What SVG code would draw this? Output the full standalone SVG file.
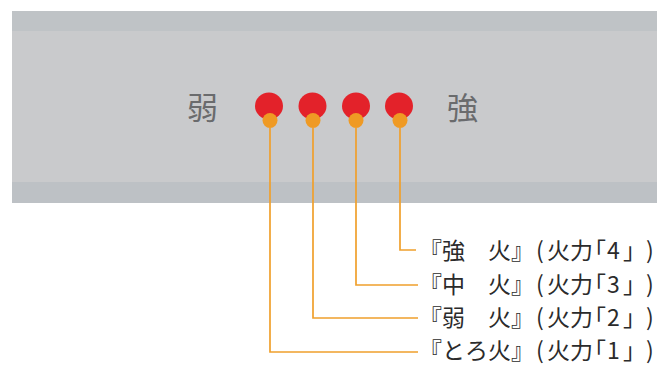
<svg xmlns="http://www.w3.org/2000/svg" width="657" height="365" viewBox="0 0 657 365">
<style>
.lamp{fill:#e3222a}
.dot{fill:#ef9a24}
.lead{fill:none;stroke:#f0a02c;stroke-width:1.7}
.big{font-family:"Noto Sans CJK JP","Noto Sans CJK SC",sans-serif;font-size:31px;fill:#6a6b6d}
.lbl{font-family:"Noto Sans CJK JP","Noto Sans CJK SC",sans-serif;font-size:23px;fill:#2b2b2b}
</style>
<rect x="0" y="0" width="657" height="365" fill="#ffffff"/>
<g id="panel">
<rect x="12" y="11" width="645" height="192" fill="#c9cacc"/>
<rect x="12" y="11" width="645" height="20" fill="#bfc3c6"/>
<rect x="12" y="182" width="645" height="21" fill="#bdc1c5"/>
<text class="big" x="187" y="119">弱</text>
<text class="big" x="447" y="119">強</text>
</g>
<g id="lamps">
<g id="lamp1"><ellipse class="lamp" cx="269" cy="106" rx="14" ry="13.5"/><circle class="dot" cx="270" cy="120.5" r="7.5"/></g>
<g id="lamp2"><ellipse class="lamp" cx="312.5" cy="106" rx="14" ry="13.5"/><circle class="dot" cx="313" cy="120.5" r="7.5"/></g>
<g id="lamp3"><ellipse class="lamp" cx="356" cy="106" rx="14" ry="13.5"/><circle class="dot" cx="356" cy="120.5" r="7.5"/></g>
<g id="lamp4"><ellipse class="lamp" cx="399" cy="106" rx="14" ry="13.5"/><circle class="dot" cx="400" cy="120.5" r="7.5"/></g>
</g>
<g id="connectors">
<polyline class="lead" points="400,127 400,250 416,250"/>
<polyline class="lead" points="356,127 356,285 418,285"/>
<polyline class="lead" points="313,127 313,318 418,318"/>
<polyline class="lead" points="270,127 270,352 418,352"/>
</g>
<g id="labels">
<text id="label4" class="lbl" x="419 442 465 488 511 536 547 570 583 607 623 646" y="259">『強　火』(火力「4」)</text>
<text id="label3" class="lbl" x="419 442 465 488 511 536 547 570 583 607 623 646" y="293">『中　火』(火力「3」)</text>
<text id="label2" class="lbl" x="419 442 465 488 511 536 547 570 583 607 623 646" y="326">『弱　火』(火力「2」)</text>
<text id="label1" class="lbl" x="419 442 465 488 511 536 547 570 583 607 623 646" y="359">『とろ火』(火力「1」)</text>
</g>
</svg>
